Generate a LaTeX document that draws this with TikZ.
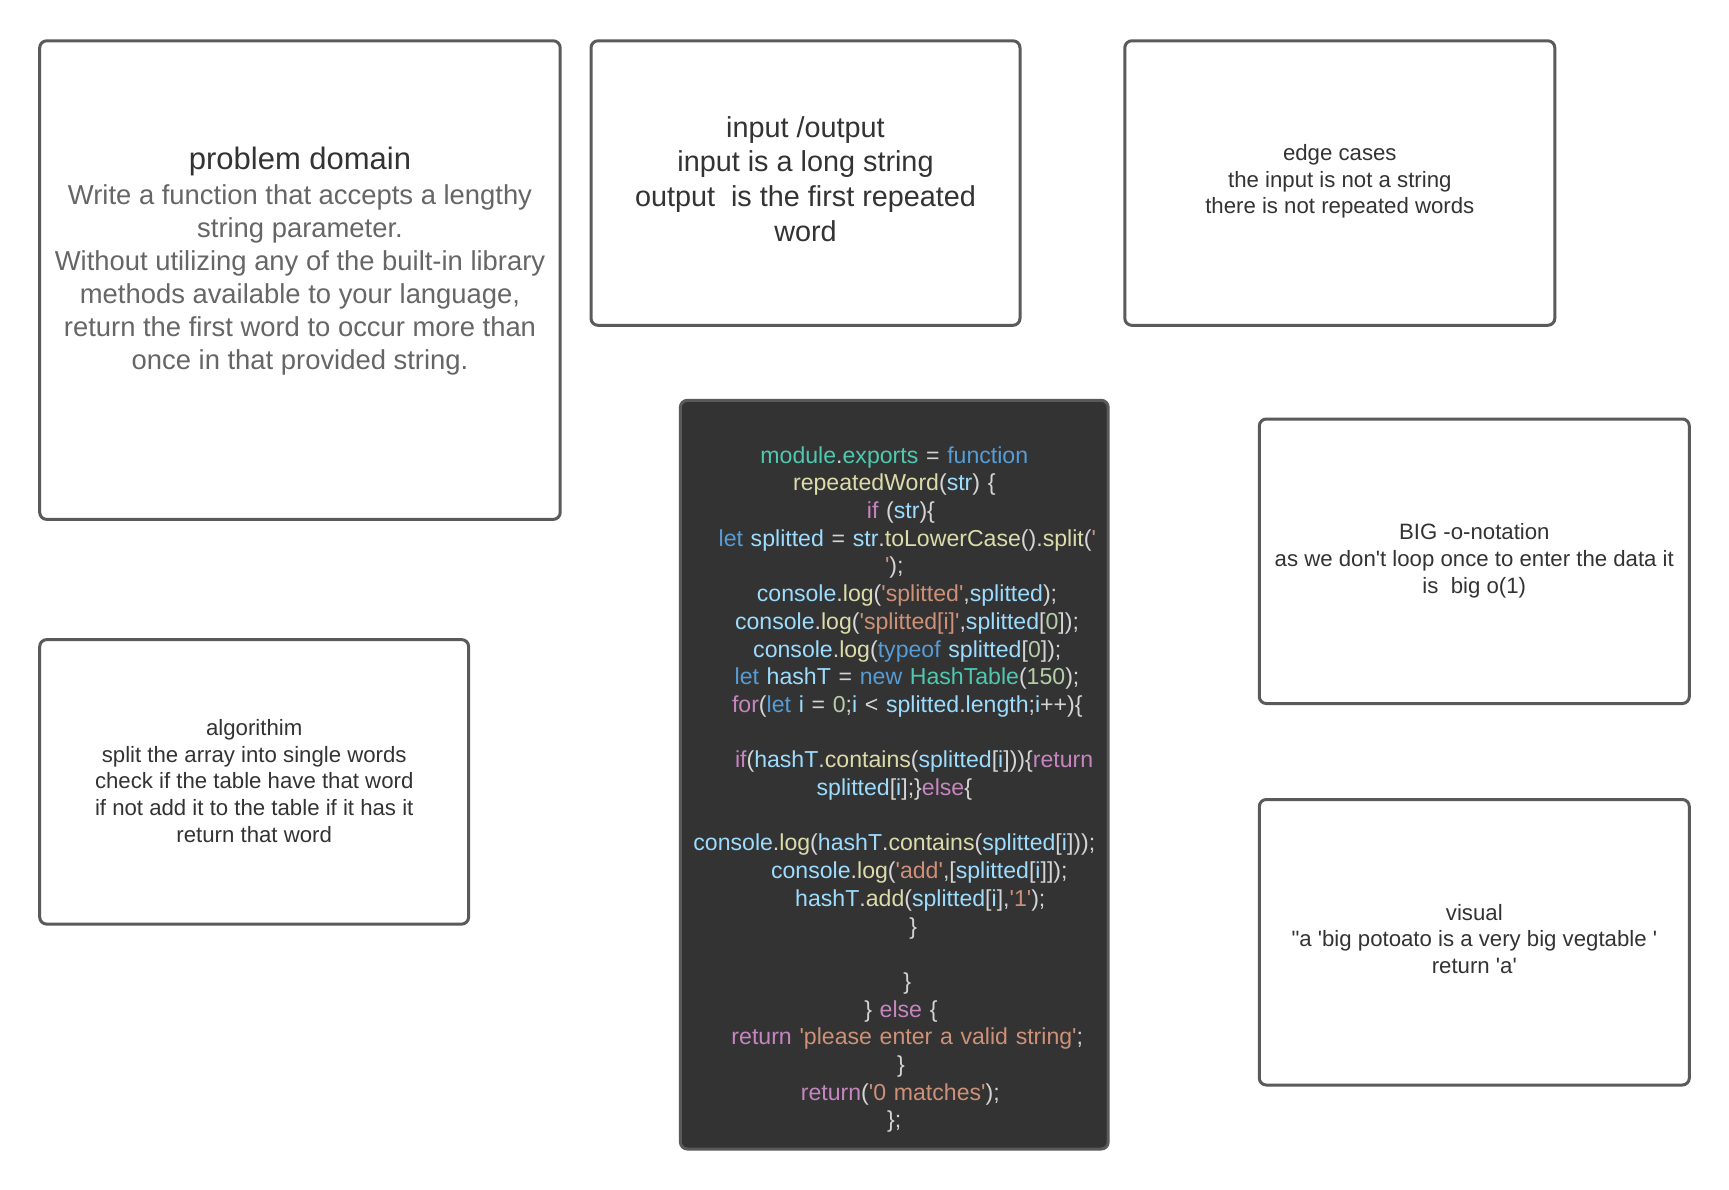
\documentclass[tikz,border=0pt]{standalone}
\usepackage{fontspec}
\newfontfamily\lucid{Liberation Sans}

\definecolor{ink}{HTML}{333333}
\definecolor{inklight}{HTML}{666666}
\definecolor{edge}{HTML}{5A5A5A}
\definecolor{codebg}{HTML}{333333}
\definecolor{jspun}{HTML}{D4D4D4}
\definecolor{jskey}{HTML}{C586C0}
\definecolor{jsdecl}{HTML}{569CD6}
\definecolor{jsfun}{HTML}{DCDCAA}
\definecolor{jsvar}{HTML}{9CDCFE}
\definecolor{jsstr}{HTML}{CE9178}
\definecolor{jsnum}{HTML}{B5CEA8}
\definecolor{jstype}{HTML}{4EC9B0}

% token colours for the code card
\newcommand\jsk[1]{\textcolor{jskey}{#1}}
\newcommand\jsd[1]{\textcolor{jsdecl}{#1}}
\newcommand\jsf[1]{\textcolor{jsfun}{#1}}
\newcommand\jsv[1]{\textcolor{jsvar}{#1}}
\newcommand\jss[1]{\textcolor{jsstr}{#1}}
\newcommand\jsn[1]{\textcolor{jsnum}{#1}}
\newcommand\jst[1]{\textcolor{jstype}{#1}}
\newcommand\jsindent[1]{\hspace*{#1pt}}

\begin{document}
\begin{tikzpicture}[x=0.5pt, y=-0.5pt,
	card/.style={draw=edge, line width=1.5pt, rounded corners=3.5pt},
	txt/.style={align=center, inner sep=0pt, text=ink, font=\lucid\fontsize{11.1}{13.45}\selectfont},
	code/.style={align=center, text width=215pt, inner sep=0pt, text=jspun, font=\lucid\fontsize{11.55}{13.85}\selectfont}]
	\fill[white] (0,0) rectangle (1729,1189);
	% cards
	\draw[card] (39.7,40.8) rectangle (560.2,519.4);
	\draw[card] (591,40.8) rectangle (1020,325.3);
	\draw[card] (1124.8,40.8) rectangle (1554.8,325.3);
	\draw[card] (39.7,639.6) rectangle (468.6,924.1);
	\draw[card, fill=codebg] (680.4,400.3) rectangle (1108.2,1149);
	\draw[card] (1259.3,419) rectangle (1689.3,703.5);
	\draw[card] (1259.3,799.5) rectangle (1689.3,1085);

	\node[txt, text=inklight, font=\lucid\fontsize{13.7}{16.5}\selectfont] (domain) at (300,261.3) {{\color{ink}\fontsize{15.5}{17.6}\selectfont problem domain}\\[1pt]Write a function that accepts a lengthy\\string parameter.\\Without utilizing any of the built-in library\\methods available to your language,\\return the first word to occur more than\\once in that provided string.};
	\node[txt, font=\lucid\fontsize{14.4}{17.3}\selectfont] (inout) at (805.5,179) {input /output\\input is a long string\\output\ \ is the first repeated\\word};
	\node[txt] (edges) at (1339.8,181.3) {edge cases\\the input is not a string\\there is not repeated words};
	\node[txt] (algo) at (254.2,781) {algorithim\\split the array into single words\\check if the table have that word\\if not add it to the table if it has it\\return that word};
	\node[txt] (bigo) at (1474.3,560.7) {BIG -o-notation\\as we don't loop once to enter the data it\\is\ \ big o(1)};
	\node[txt] (visual) at (1474.3,939) {visual\\"a 'big potoato is a very big vegtable '\\return 'a'};

	\node[code] (source) at (894.3,789.6) {%
		\jst{module}.\jst{exports} = \jsd{function}\\
		\jsf{repeatedWord}(\jsv{str}) \{\\
		\jsindent{6.6}\jsk{if} (\jsv{str})\{\\
		\jsindent{13}\jsd{let} \jsv{splitted} = \jsv{str}.\jsf{toLowerCase}().\jsf{split}(\jss{'}\\
		\jss{'});\\
		\jsindent{12.7}\jsv{console}.\jsf{log}(\jss{'splitted'},\jsv{splitted});\\
		\jsindent{12.7}\jsv{console}.\jsf{log}(\jss{'splitted[i]'},\jsv{splitted}[\jsn{0}]);\\
		\jsindent{13}\jsv{console}.\jsf{log}(\jsd{typeof} \jsv{splitted}[\jsn{0}]);\\
		\jsindent{12.7}\jsd{let} \jsv{hashT} = \jsd{new} \jst{HashTable}(\jsn{150});\\
		\jsindent{13}\jsk{for}(\jsd{let} \jsv{i} = \jsn{0};\jsv{i} < \jsv{splitted}.\jsv{length};\jsv{i}++)\{\\
		\mbox{}\\
		\jsindent{19.8}\jsk{if}(\jsv{hashT}.\jsf{contains}(\jsv{splitted}[\jsv{i}]))\{\jsk{return}\\
		\jsv{splitted}[\jsv{i}];\}\jsk{else}\{\\
		\mbox{}\\
		\jsv{console}.\jsf{log}(\jsv{hashT}.\jsf{contains}(\jsv{splitted}[\jsv{i}]));\\
		\jsindent{25}\jsv{console}.\jsf{log}(\jss{'add'},[\jsv{splitted}[\jsv{i}]]);\\
		\jsindent{26}\jsv{hashT}.\jsf{add}(\jsv{splitted}[\jsv{i}],\jss{'1'});\\
		\jsindent{19}\}\\
		\mbox{}\\
		\jsindent{13}\}\\
		\jsindent{6.6}\} \jsk{else} \{\\
		\jsindent{13}\jsk{return} \jss{'please enter a valid string'};\\
		\jsindent{6.6}\}\\
		\jsindent{6}\jsk{return}(\jss{'0 matches'});\\
		\};};
\end{tikzpicture}
\end{document}
